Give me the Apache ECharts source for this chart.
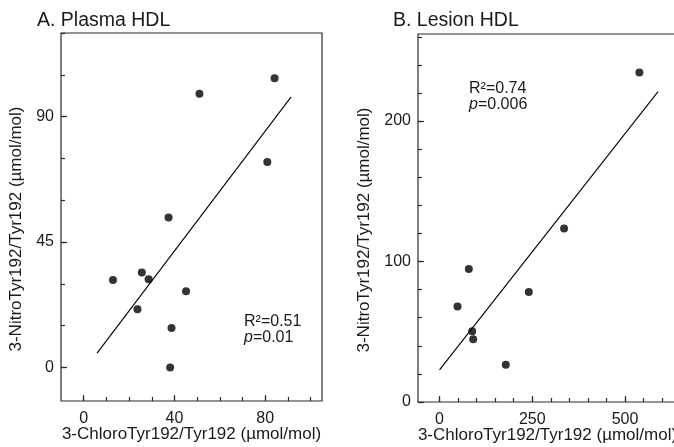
<!DOCTYPE html>
<html>
<head>
<meta charset="utf-8">
<script src="https://cdn.jsdelivr.net/npm/echarts@6/dist/echarts.min.js"></script>
<style>html,body{margin:0;padding:0;background:#fff;}#c{width:674px;height:447px;}</style>
</head>
<body>
<div id="c"></div>
<script>
// Panel A: Plasma HDL
const plasmaChloro = [12.9, 25.6, 28.6, 23.7, 37.4, 45.1, 38.7, 38.1, 51.0, 84.1, 80.9];
const plasmaNitro  = [31.4, 34.1, 31.7, 20.9, 53.8, 27.4, 14.2, 0.0, 98.2, 103.8, 73.7];
const plasmaFitX = [5.9, 91.4];
const plasmaFitY = [5.2, 97.1];
const plasmaXLabels = [0, 40, 80];
const plasmaXTicks = [0, 10, 20, 30, 40, 50, 60, 70, 80, 90, 100];
const plasmaYLabels = [0, 45, 90];
const plasmaYTicks = [0, 15, 30, 45, 60, 75, 90, 105, 120];
// Panel B: Lesion HDL
const lesionChloro = [538.6, 335.7, 79.0, 48.5, 240.6, 88.0, 90.7, 178.6];
const lesionNitro  = [234.6, 123.6, 94.7, 68.0, 78.3, 50.4, 44.6, 26.5];
const lesionFitX = [0, 588.9];
const lesionFitY = [22.9, 221.0];
const lesionXLabels = [0, 250, 500];
const lesionXTicks = [0, 50, 100, 150, 200, 250, 300, 350, 400, 450, 500, 550, 600];
const lesionYLabels = [0, 100, 200];
const lesionYTicks = [0, 20, 40, 60, 80, 100, 120, 140, 160, 180, 200, 220, 240, 260];

const FONT = 'Liberation Sans, Arial, sans-serif';
const TXT = '#1a1a1a';
const LINE = '#2a2a2a';
const xTitle = '3-ChloroTyr192/Tyr192 (\u00b5mol/mol)';
const yTitle = '3-NitroTyr192/Tyr192 (\u00b5mol/mol)';

function zip(a, b) { return a.map((v, i) => [v, b[i]]); }

// Frame geometry (pixels) and data ranges of the two panels
const frames = [
  { left: 61, top: 33, width: 261, height: 368, xr: [-10, 105], yr: [-12, 120] },
  { left: 418, top: 34, width: 259, height: 368, xr: [-58, 640], yr: [0, 262] }
];
function px(f, x) { return f.left + (x - f.xr[0]) / (f.xr[1] - f.xr[0]) * f.width; }
function py(f, y) { return f.top + (f.yr[1] - y) / (f.yr[1] - f.yr[0]) * f.height; }

const grids = [], xAxes = [], yAxes = [];

// Main frame grids with data axes (names only)
frames.forEach((f, i) => {
  grids.push({ left: f.left, top: f.top, width: f.width, height: f.height, show: true,
    borderColor: LINE, borderWidth: 1.2, backgroundColor: 'transparent', outerBoundsMode: 'none', containLabel: false });
  xAxes.push({ type: 'value', gridIndex: i, min: f.xr[0], max: f.xr[1], position: 'bottom',
    axisLine: { show: false, onZero: false }, axisTick: { show: false }, axisLabel: { show: false }, splitLine: { show: false },
    name: xTitle, nameLocation: 'middle', nameGap: 25,
    nameTextStyle: { color: TXT, fontSize: 17, fontFamily: FONT } });
  yAxes.push({ type: 'value', gridIndex: i, min: f.yr[0], max: f.yr[1], position: 'left',
    axisLine: { show: false, onZero: false }, axisTick: { show: false }, axisLabel: { show: false }, splitLine: { show: false },
    name: yTitle, nameLocation: 'middle', nameGap: i === 0 ? 36 : 45,
    nameTextStyle: { color: TXT, fontSize: 17, fontFamily: FONT, padding: [0, 24, 0, 0] } });
});

// Tick grids: each covers exactly the tick range so that ticks fall on the right values
function addTickGrid(f, xv, yv, len, withLabels) {
  const gi = grids.length;
  const x0 = xv[0], x1 = xv[xv.length - 1], y0 = yv[0], y1 = yv[yv.length - 1];
  const l = px(f, x0), r = px(f, x1), t = py(f, y1), b = py(f, y0);
  grids.push({ left: l, top: t, width: r - l, height: b - t, show: false, outerBoundsMode: 'none', containLabel: false });
  const common = (lbl, margin) => ({
    axisLine: { show: false, onZero: false },
    axisTick: { show: true, inside: true, length: len, lineStyle: { color: LINE, width: 1.2 } },
    axisLabel: { show: lbl, color: TXT, fontSize: 16, fontFamily: FONT, margin: margin, showMinLabel: true, showMaxLabel: true },
    splitLine: { show: false }
  });
  xAxes.push(Object.assign({ type: 'value', gridIndex: gi, min: x0, max: x1, interval: xv[1] - xv[0],
    position: 'bottom', offset: (f.top + f.height) - b }, common(withLabels, 10)));
  yAxes.push(Object.assign({ type: 'value', gridIndex: gi, min: y0, max: y1, interval: yv[1] - yv[0],
    position: 'left', offset: l - f.left }, common(withLabels, 7)));
}
addTickGrid(frames[0], plasmaXTicks, plasmaYTicks, 4, false);
addTickGrid(frames[0], plasmaXLabels, plasmaYLabels, 6, true);
addTickGrid(frames[1], lesionXTicks, lesionYTicks, 4, false);
addTickGrid(frames[1], lesionXLabels, lesionYLabels, 6, true);

const chart = echarts.init(document.getElementById('c'), null, { renderer: 'canvas' });
chart.setOption({
  animation: false,
  backgroundColor: '#fff',
  title: [
    { text: 'A. Plasma HDL', left: 32, top: 6, textStyle: { fontSize: 19.5, fontWeight: 'normal', color: TXT, fontFamily: FONT } },
    { text: 'B. Lesion HDL', left: 388, top: 6, textStyle: { fontSize: 19.5, fontWeight: 'normal', color: TXT, fontFamily: FONT } }
  ],
  grid: grids,
  xAxis: xAxes,
  yAxis: yAxes,
  series: [
    { type: 'scatter', xAxisIndex: 0, yAxisIndex: 0, data: zip(plasmaChloro, plasmaNitro), symbol: 'circle', symbolSize: 8, itemStyle: { color: '#000' } },
    { type: 'line', xAxisIndex: 0, yAxisIndex: 0, data: zip(plasmaFitX, plasmaFitY), symbol: 'none', lineStyle: { color: '#000', width: 1.1 } },
    { type: 'scatter', xAxisIndex: 1, yAxisIndex: 1, data: zip(lesionChloro, lesionNitro), symbol: 'circle', symbolSize: 8, itemStyle: { color: '#000' } },
    { type: 'line', xAxisIndex: 1, yAxisIndex: 1, data: zip(lesionFitX, lesionFitY), symbol: 'none', lineStyle: { color: '#000', width: 1.1 } }
  ],
  graphic: [
    { type: 'text', left: 244, top: 314, style: {
      text: '{r|R\u00b2=0.51}\n{i|p}{r|=0.01}',
      rich: { r: { fontSize: 16, fontFamily: FONT, fill: TXT, lineHeight: 16 }, i: { fontSize: 16, fontFamily: FONT, fontStyle: 'italic', fill: TXT, lineHeight: 16 } }
    } },
    { type: 'text', left: 469, top: 81, style: {
      text: '{r|R\u00b2=0.74}\n{i|p}{r|=0.006}',
      rich: { r: { fontSize: 16, fontFamily: FONT, fill: TXT, lineHeight: 16 }, i: { fontSize: 16, fontFamily: FONT, fontStyle: 'italic', fill: TXT, lineHeight: 16 } }
    } }
  ]
});
</script>
</body>
</html>
